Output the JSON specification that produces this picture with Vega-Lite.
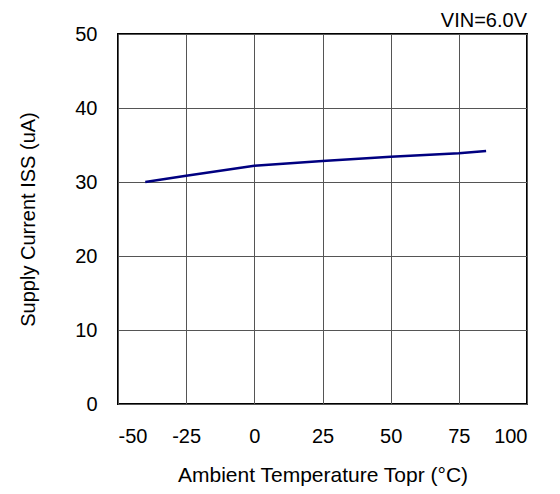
{
  "$schema": "https://vega.github.io/schema/vega-lite/v6.json",
  "width": 409,
  "height": 370,
  "autosize": {"type": "none"},
  "padding": {"left": 118, "top": 34, "right": 33, "bottom": 90},
  "background": "white",
  "title": {"text": "VIN=6.0V", "anchor": "end", "fontSize": 20, "fontWeight": "normal", "font": "Liberation Sans", "color": "black", "offset": 2, "dy": 9},
  "config": {
    "view": {"stroke": "black", "strokeWidth": 2},
    "axis": {"labelFont": "Liberation Sans", "titleFont": "Liberation Sans", "labelColor": "black", "titleColor": "black", "gridColor": "#555555", "gridWidth": 1, "gridOpacity": 1, "domain": false, "ticks": false, "titleFontWeight": "normal", "labelFontSize": 20}
  },
  "data": {"values": [
    {"t": -40, "i": 30.0},
    {"t": -25, "i": 30.85},
    {"t": 0, "i": 32.2},
    {"t": 25, "i": 32.85},
    {"t": 50, "i": 33.4},
    {"t": 75, "i": 33.9},
    {"t": 85, "i": 34.2}
  ]},
  "mark": {"type": "line", "color": "#000080", "strokeWidth": 2.5},
  "encoding": {
    "x": {"field": "t", "type": "quantitative", "scale": {"domain": [-50, 100], "nice": false}, "axis": {"values": [-50, -25, 0, 25, 50, 75, 100], "labelExpr": "toString(datum.value)", "labelPadding": 22, "title": "Ambient Temperature Topr (\u00b0C)", "titleFontSize": 21, "titlePadding": 18}},
    "y": {"field": "i", "type": "quantitative", "scale": {"domain": [0, 50], "nice": false}, "axis": {"values": [0, 10, 20, 30, 40, 50], "labelPadding": 21, "title": "Supply Current ISS (uA)", "titleFontSize": 20, "titlePadding": 36}}
  }
}
